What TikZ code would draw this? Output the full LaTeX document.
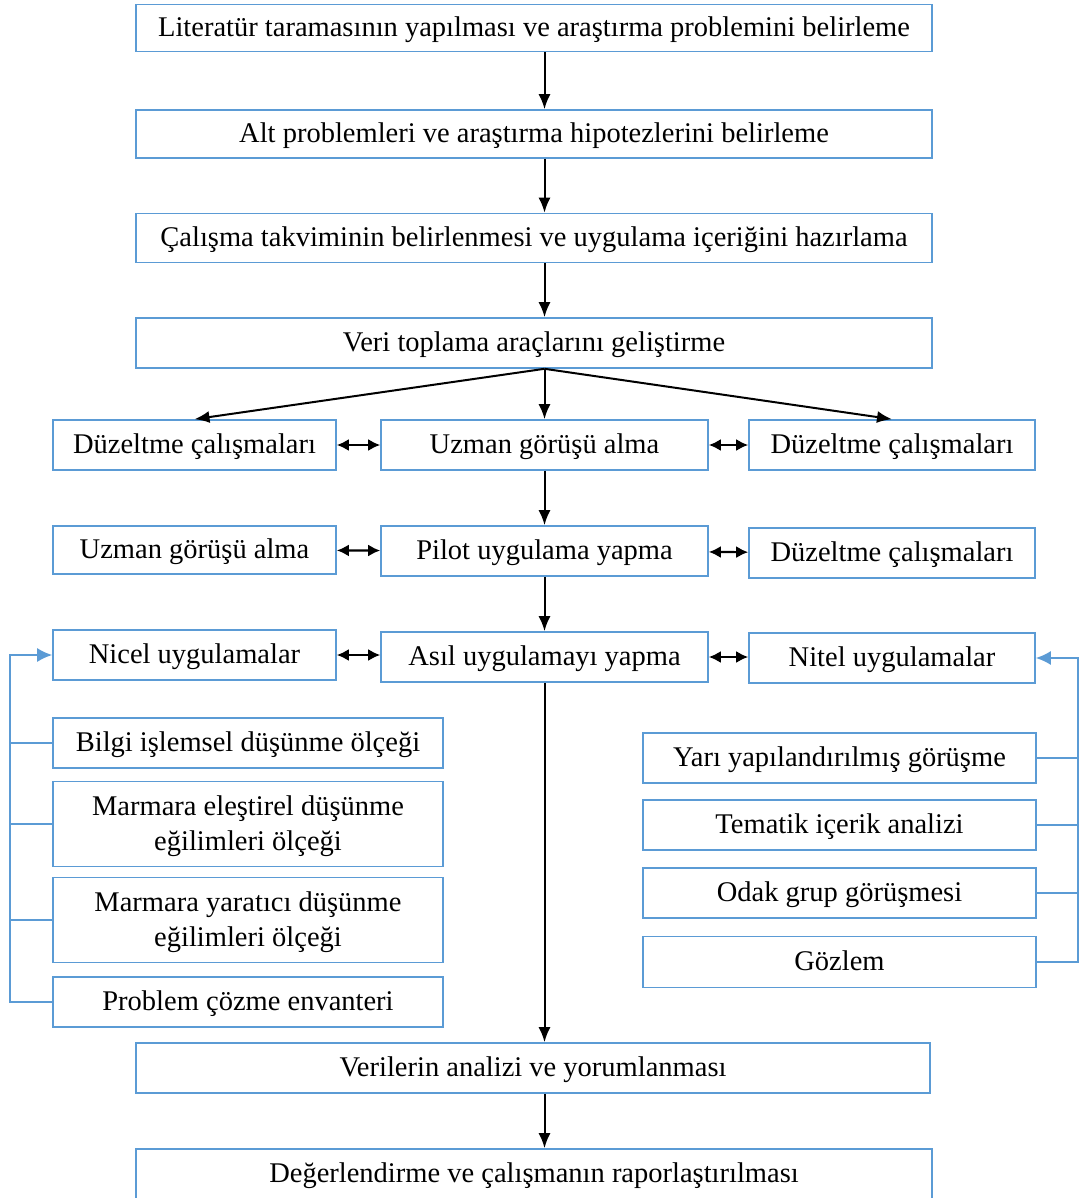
\documentclass[tikz,border=0pt]{standalone}
\usepackage{fontspec}
\setmainfont{Liberation Serif}
\usetikzlibrary{arrows.meta}
\definecolor{boxblue}{RGB}{91,155,213}

\begin{document}
\begin{tikzpicture}[x=1pt, y=-1pt, font=\fontsize{28.5}{35}\selectfont,
    box/.style={draw=boxblue, line width=1.6pt, inner sep=0pt, align=center, minimum height=50pt,
        text height=21pt, text depth=4pt},
    twoline/.style={box, minimum height=85pt, text height=56pt},
    flow/.style={-{Latex[length=15pt,width=12pt]}, line width=2pt},
    both/.style={{Latex[length=12pt,width=12pt]}-{Latex[length=12pt,width=12pt]}, line width=2.2pt},
    link/.style={draw=boxblue, line width=1.8pt}]
    \useasboundingbox (0,0) rectangle (1084,1198);

    \node[box, minimum width=796pt, minimum height=47pt] (lit) at (534,28) {Literatür taramasının yapılması ve araştırma problemini belirleme};
    \node[box, minimum width=796pt, minimum height=48pt] (alt) at (534,134) {Alt problemleri ve araştırma hipotezlerini belirleme};
    \node[box, minimum width=796pt, minimum height=49pt] (takvim) at (534,238) {Çalışma takviminin belirlenmesi ve uygulama içeriğini hazırlama};
    \node[box, minimum width=796pt] (veri) at (534,343) {Veri toplama araçlarını geliştirme};

    \node[box, minimum width=283pt] (duzA) at (194.5,445) {Düzeltme çalışmaları};
    \node[box, minimum width=327pt] (uzman) at (544.5,445) {Uzman görüşü alma};
    \node[box, minimum width=286pt] (duzB) at (892,445) {Düzeltme çalışmaları};

    \node[box, minimum width=283pt, minimum height=48pt] (uzmanB) at (194.5,550) {Uzman görüşü alma};
    \node[box, minimum width=327pt] (pilot) at (544.5,551) {Pilot uygulama yapma};
    \node[box, minimum width=286pt] (duzC) at (892,553) {Düzeltme çalışmaları};

    \node[box, minimum width=283pt] (nicel) at (194.5,655) {Nicel uygulamalar};
    \node[box, minimum width=327pt] (asil) at (544.5,657) {Asıl uygulamayı yapma};
    \node[box, minimum width=286pt] (nitel) at (892,658) {Nitel uygulamalar};

    \node[box, minimum width=390pt] (bilgi) at (248,743) {Bilgi işlemsel düşünme ölçeği};
    \node[twoline, minimum width=390pt] (elest) at (248,824) {Marmara eleştirel düşünme\\eğilimleri ölçeği};
    \node[twoline, minimum width=390pt] (yarat) at (248,920) {Marmara yaratıcı düşünme\\eğilimleri ölçeği};
    \node[box, minimum width=390pt] (envan) at (248,1002) {Problem çözme envanteri};

    \node[box, minimum width=393pt] (yari) at (839.5,758) {Yarı yapılandırılmış görüşme};
    \node[box, minimum width=393pt] (tema) at (839.5,825) {Tematik içerik analizi};
    \node[box, minimum width=393pt] (odak) at (839.5,893) {Odak grup görüşmesi};
    \node[box, minimum width=393pt, minimum height=51pt] (gozlem) at (839.5,962) {Gözlem};

    \node[box, minimum width=794pt] (analiz) at (533,1068) {Verilerin analizi ve yorumlanması};
    \node[box, minimum width=796pt] (rapor) at (534,1174) {Değerlendirme ve çalışmanın raporlaştırılması};

    \coordinate (lb) at (10,655);
    \coordinate (rb) at (1078,658);

    \draw[flow] (lit.south -| uzman) -- (alt.north -| uzman);
    \draw[flow] (alt.south -| uzman) -- (takvim.north -| uzman);
    \draw[flow] (takvim.south -| uzman) -- (veri.north -| uzman);
    \draw[flow] (veri.south -| uzman) -- (uzman.north);
    \draw[flow] (veri.south -| uzman) -- (duzA.north);
    \draw[flow] (veri.south -| uzman) -- (duzB.north);
    \draw[flow] (uzman.south) -- (pilot.north);
    \draw[flow] (pilot.south) -- (asil.north);
    \draw[flow] (asil.south) -- (analiz.north -| asil);
    \draw[flow] (analiz.south -| asil) -- (rapor.north -| asil);

    \draw[both] (duzA) -- (uzman);
    \draw[both] (uzman) -- (duzB);
    \draw[both] (uzmanB) -- (pilot);
    \draw[both] (pilot) -- (duzC);
    \draw[both] (nicel) -- (asil.west |- nicel);
    \draw[both] (asil) -- (nitel.west |- asil);

    % olcekler
    \draw[link, -{Latex[length=15pt,width=14pt]}] (envan.west) -| (lb) -- (nicel.west);
    \foreach \n in {bilgi, elest, yarat}
        \draw[link] (\n.west) -- (\n.west -| lb);
    \draw[link, -{Latex[length=15pt,width=14pt]}] (gozlem.east) -| (rb) -- (nitel.east);
    \foreach \n in {yari, tema, odak}
        \draw[link] (\n.east) -- (\n.east -| rb);
\end{tikzpicture}
\end{document}
